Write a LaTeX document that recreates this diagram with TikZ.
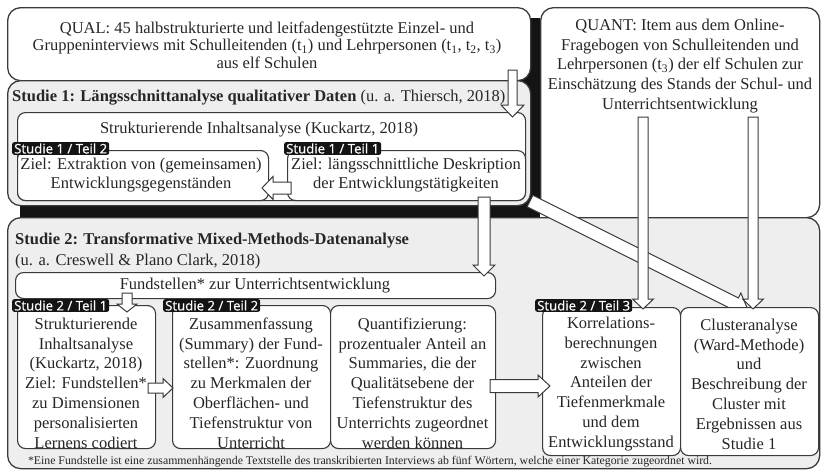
\documentclass[tikz,border=0pt]{standalone}
\usepackage{fontspec}
\setmainfont{Liberation Serif}
\newfontfamily\tagfont[FakeBold=0.6]{Open Sans}
\usetikzlibrary{calc}
\definecolor{edge}{HTML}{3A3A3A}
\definecolor{ink}{HTML}{262626}
\definecolor{panel}{HTML}{EEEEEE}
\definecolor{barc}{HTML}{141414}
\newcommand\mainsz{\fontsize{16.5pt}{19.8pt}\selectfont}
\newcommand\qualsz{\fontsize{16.5pt}{17.5pt}\selectfont}
\newcommand\notesz{\fontsize{11.8pt}{12pt}\selectfont}
\newcommand\blockarr[5]{%
  \path ($(#2)!#5pt!(#1)$) coordinate (bh);
  \filldraw[arrowbody] ($(#1)!#3pt!90:(#2)$) -- ($(bh)!#3pt!90:(#2)$) -- ($(bh)!#4pt!90:(#2)$) -- (#2) -- ($(bh)!#4pt!-90:(#2)$) -- ($(bh)!#3pt!-90:(#2)$) -- ($(#1)!#3pt!-90:(#2)$) -- cycle;
}
\tikzset{
  outerbox/.style={draw=edge, line width=1.3pt, rounded corners=13pt, inner sep=0pt, anchor=north west},
  panelbox/.style={outerbox, fill=panel},
  qbox/.style={outerbox, fill=white},
  whitebox/.style={draw=edge, line width=1.1pt, fill=white, rounded corners=8pt, inner sep=0pt, anchor=north west},
  txt/.style={text=ink, align=center, inner sep=0pt, font=\mainsz},
  tagbox/.style={fill=barc, text=white, rounded corners=2pt, font=\tagfont\fontsize{13.2pt}{14pt}\selectfont, inner xsep=2pt, inner ysep=1.2pt, anchor=north west},
  arrowbody/.style={draw=edge, line width=1pt, fill=white, line join=miter},
}
\begin{document}
\begin{tikzpicture}[x=1pt,y=-1pt]
\useasboundingbox (0,0) rectangle (824,472);
\fill[white] (0,0) rectangle (824,472);
% black backing bars
\fill[barc] (20,18) rectangle (540,217);
% QUANT box
\node[qbox, minimum width=279pt, minimum height=210pt] (quant) at (540,7) {};
% Studie 2 panel
\node[panelbox, minimum width=812pt, minimum height=251pt] (s2) at (7,217) {};
% diagonal arrow from Studie 1 to Cluster
\coordinate (a4s) at (530,201);
\coordinate (a4e) at (748,310);
\blockarr{a4s}{a4e}{6.5}{12}{14}
% QUAL box
\node[qbox, minimum width=523pt, minimum height=73pt] (qual) at (7,7) {};
% Studie 1 panel
\node[panelbox, minimum width=523pt, minimum height=125pt] (s1) at (7,80) {};
\node[whitebox, minimum width=508pt, minimum height=88pt] (s1inner) at (17,112) {};
\node[whitebox, minimum width=251pt, minimum height=50pt] (s1t2) at (17,150) {};
\node[whitebox, minimum width=238pt, minimum height=50pt] (s1t1) at (287,150) {};
\node[tagbox] (tag12) at (12,142) {Studie 1 / Teil 2};
\node[tagbox] (tag11) at (284,142) {Studie 1 / Teil 1};
% texts top
\node[txt, font=\qualsz] (qualtxt) at (267,45) {QUAL: 45 halbstrukturierte und leitfadengestützte Einzel- und\\ Gruppeninterviews mit Schulleitenden (t\textsubscript{1}) und Lehrpersonen (t\textsubscript{1}, t\textsubscript{2}, t\textsubscript{3})\\ aus elf Schulen};
\node[txt, anchor=west] (s1title) at (12,98) {\textbf{Studie 1: Längsschnittanalyse qualitativer Daten} (u. a. Thiersch, 2018)};
\node[txt] (s1innertxt) at (259,130) {Strukturierende Inhaltsanalyse (Kuckartz, 2018)};
\node[txt] (s1t2txt) at (141,175) {Ziel: Extraktion von (gemeinsamen)\\ Entwicklungsgegenständen};
\node[txt] (s1t1txt) at (406,175) {Ziel: längsschnittliche Deskription\\ der Entwicklungstätigkeiten};
\node[txt] (quanttxt) at (680,66) {QUANT: Item aus dem Online-\\ Fragebogen von Schulleitenden und\\ Lehrpersonen (t\textsubscript{3}) der elf Schulen zur\\ Einschätzung des Stands der Schul- und\\ Unterrichtsentwicklung};
% Studie 2 texts
\node[txt, anchor=west] (s2title) at (15,240) {\textbf{Studie 2: Transformative Mixed-Methods-Datenanalyse}};
\node[txt, anchor=west] (s2sub) at (15,262) {(u. a. Creswell \& Plano Clark, 2018)};
\node[whitebox, minimum width=480pt, minimum height=26pt] (fund) at (15,272) {};
\node[txt] (fundtxt) at (255,286) {Fundstellen* zur Unterrichtsentwicklung};
% bottom boxes
\node[whitebox, minimum width=138pt, minimum height=143pt] (b1) at (17,305) {};
\node[whitebox, minimum width=158pt, minimum height=143pt] (b2) at (172,305) {};
\node[whitebox, minimum width=165pt, minimum height=143pt] (b3) at (330,305) {};
\node[whitebox, minimum width=138pt, minimum height=148pt] (b4) at (542,307) {};
\node[whitebox, minimum width=138pt, minimum height=148pt] (b5) at (680,307) {};
\node[tagbox] (tag21) at (12,299) {Studie 2 / Teil 1};
\node[tagbox] (tag22) at (163,299) {Studie 2 / Teil 2};
\node[tagbox] (tag23) at (535,299) {Studie 2 / Teil 3};
\node[txt] (b1txt) at (86,383) {Strukturierende\\ Inhaltsanalyse\\ (Kuckartz, 2018)\\ Ziel: Fundstellen*\\ zu Dimensionen\\ personalisierten\\ Lernens codiert};
\node[txt] (b2txt) at (251,383) {Zusammenfassung\\ (Summary) der Fund-\\ stellen*: Zuordnung\\ zu Merkmalen der\\ Oberflächen- und\\ Tiefenstruktur von\\ Unterricht};
\node[txt] (b3txt) at (412.5,383) {Quantifizierung:\\ prozentualer Anteil an\\ Summaries, die der\\ Qualitätsebene der\\ Tiefenstruktur des\\ Unterrichts zugeordnet\\ werden können};
\node[txt] (b4txt) at (611,384) {Korrelations-\\ berechnungen\\ zwischen\\ Anteilen der\\ Tiefenmerkmale\\ und dem\\ Entwicklungsstand};
\node[txt] (b5txt) at (749,384) {Clusteranalyse\\ (Ward-Methode)\\ und\\ Beschreibung der\\ Cluster mit\\ Ergebnissen aus\\ Studie 1};
\node[txt, font=\notesz] (note) at (370,462) {*Eine Fundstelle ist eine zusammenhängende Textstelle des transkribierten Interviews ab fünf Wörtern, welche einer Kategorie zugeordnet wird.};
% arrows
\coordinate (a1s) at (512.5,70);   \coordinate (a1e) at (512.5,117);
\coordinate (a2s) at (291,188);    \coordinate (a2e) at (262,188);
\coordinate (a3s) at (484,197);    \coordinate (a3e) at (484,276);
\coordinate (a5s) at (643,117);    \coordinate (a5e) at (643,309);
\coordinate (a6s) at (753,117);    \coordinate (a6e) at (753,309);
\coordinate (a7s) at (127,293);    \coordinate (a7e) at (127,312);
\coordinate (a8s) at (148,388);    \coordinate (a8e) at (173,388);
\coordinate (a9s) at (490,386);    \coordinate (a9e) at (550,386);
\blockarr{a1s}{a1e}{4.5}{11.5}{12}
\blockarr{a2s}{a2e}{6}{11.5}{11}
\blockarr{a3s}{a3e}{6}{11}{11}
\blockarr{a5s}{a5e}{5}{10.5}{10}
\blockarr{a6s}{a6e}{5}{10.5}{10}
\blockarr{a7s}{a7e}{5}{10}{8}
\blockarr{a8s}{a8e}{5}{9.5}{10}
\blockarr{a9s}{a9e}{6.5}{11}{12}
\end{tikzpicture}
\end{document}
